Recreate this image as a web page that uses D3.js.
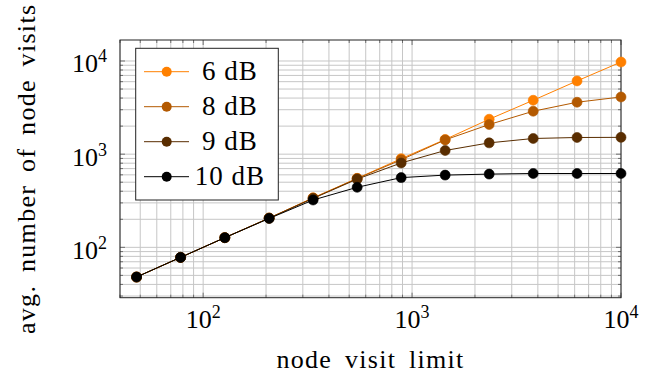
<!DOCTYPE html>
<html>
<head>
    <meta charset="UTF-8">
    <style>
        body { margin: 0; background: #fff; }
    </style>
</head>
<body>
    <div id="chart"></div>

    <script src="https://d3js.org/d3.v7.min.js"></script>
    <script>
        // data
        const limits = [48, 78, 127, 207, 336, 546, 887, 1440, 2339, 3800, 6160, 10000];
        const visits6 = [48, 78, 127, 206, 340, 550, 895, 1438, 2370, 3790, 6110, 9750];
        const visits8 = [48, 78, 127, 206, 338, 548, 870, 1423, 2080, 2890, 3610, 4110];
        const visits9 = [48, 78, 127, 206, 335, 540, 805, 1095, 1322, 1473, 1510, 1515];
        const visits10 = [48, 78, 127, 204, 322, 441, 560, 596, 611, 620, 620, 620];
        const seriesNames = ["6 dB", "8 dB", "9 dB", "10 dB"];
        const seriesColors = ["#ff8000", "#b35900", "#592d00", "#000000"];
        const xLabel = "node visit limit";
        const yLabel = "avg. number of node visits";

        const width = 651, height = 374;
        const margin = { top: 40, right: 30, bottom: 76.3, left: 120 };
        const serif = "'Liberation Serif', 'Times New Roman', FreeSerif, serif";

        const svg = d3.select("#chart").append("svg")
            .attr("width", width).attr("height", height)
            .style("font-family", serif);

        const x = d3.scaleLog().domain([40, 10000]).range([margin.left, width - margin.right]);
        const y = d3.scaleLog().domain([28.8, 16800]).range([height - margin.bottom, margin.top]);

        const pl = margin.left, pr = width - margin.right;
        const pt = margin.top, pb = height - margin.bottom;

        const xTicks = x.ticks();
        const yTicks = y.ticks();
        const isMajor = v => Math.abs(Math.log10(v) - Math.round(Math.log10(v))) < 1e-9;

        // grid (both major and minor)
        const grid = svg.append("g").attr("stroke", "#c6c6c6").attr("stroke-width", 1);
        grid.selectAll(".gx").data(xTicks).enter().append("line")
            .attr("x1", d => x(d)).attr("x2", d => x(d))
            .attr("y1", pt).attr("y2", pb);
        grid.selectAll(".gy").data(yTicks).enter().append("line")
            .attr("y1", d => y(d)).attr("y2", d => y(d))
            .attr("x1", pl).attr("x2", pr);

        // inward ticks on all four sides
        const ticks = svg.append("g").attr("stroke", "#555").attr("stroke-width", 0.8);
        xTicks.forEach(v => {
            const len = isMajor(v) ? 5 : 3;
            ticks.append("line").attr("x1", x(v)).attr("x2", x(v)).attr("y1", pb).attr("y2", pb - len);
            ticks.append("line").attr("x1", x(v)).attr("x2", x(v)).attr("y1", pt).attr("y2", pt + len);
        });
        yTicks.forEach(v => {
            const len = isMajor(v) ? 5 : 3;
            ticks.append("line").attr("y1", y(v)).attr("y2", y(v)).attr("x1", pl).attr("x2", pl + len);
            ticks.append("line").attr("y1", y(v)).attr("y2", y(v)).attr("x1", pr).attr("x2", pr - len);
        });

        // frame
        svg.append("rect")
            .attr("x", pl).attr("y", pt)
            .attr("width", pr - pl).attr("height", pb - pt)
            .attr("fill", "none").attr("stroke", "#222").attr("stroke-width", 1);

        // tick labels 10^n
        function powLabel(sel, v) {
            sel.style("font-family", serif).style("font-size", "26px");
            sel.append("tspan").text("10");
            sel.append("tspan").attr("dy", -10).style("font-size", "18px").text(Math.round(Math.log10(v)));
        }
        xTicks.filter(isMajor).forEach(v => {
            svg.append("text").attr("x", x(v)).attr("y", pb + 30.6)
                .attr("text-anchor", "middle")
                .call(powLabel, v);
        });
        yTicks.filter(isMajor).forEach(v => {
            svg.append("text").attr("x", pl - 13).attr("y", y(v) + 11.5)
                .attr("text-anchor", "end")
                .call(powLabel, v);
        });

        // axis titles
        svg.append("text")
            .attr("x", (pl + pr) / 2).attr("y", 368)
            .attr("text-anchor", "middle")
            .style("font-family", serif).style("font-size", "26px")
            .style("word-spacing", "5px").style("letter-spacing", "1.3px")
            .text(xLabel);
        svg.append("text")
            .attr("transform", `translate(35,${(pt + pb) / 2}) rotate(-90)`)
            .attr("text-anchor", "middle")
            .style("font-family", serif).style("font-size", "26px")
            .style("word-spacing", "5px").style("letter-spacing", "1.3px")
            .text(yLabel);

        // series
        const series = [visits6, visits8, visits9, visits10].map((vals, i) => ({
            name: seriesNames[i],
            color: seriesColors[i],
            points: limits.map((l, j) => ({ x: l, y: vals[j] }))
        }));

        const line = d3.line().x(d => x(d.x)).y(d => y(d.y));

        series.forEach(s => {
            const g = svg.append("g");
            g.append("path").datum(s.points)
                .attr("d", line)
                .attr("fill", "none").attr("stroke", s.color).attr("stroke-width", 1);
            g.selectAll("circle").data(s.points).enter().append("circle")
                .attr("cx", d => x(d.x)).attr("cy", d => y(d.y)).attr("r", 5)
                .attr("fill", s.color).attr("stroke", s.color).attr("stroke-width", 0.6);
        });

        // legend
        const legend = svg.append("g").attr("transform", `translate(${pl + 15.7},${pt + 8.3})`);
        legend.append("rect")
            .attr("width", 142.6).attr("height", 151.7)
            .attr("fill", "#fff").attr("stroke", "#222").attr("stroke-width", 1);
        series.forEach((s, i) => {
            const cy = 23.4 + i * 35;
            legend.append("line")
                .attr("x1", 8.3).attr("x2", 53.3).attr("y1", cy).attr("y2", cy)
                .attr("stroke", s.color).attr("stroke-width", 1);
            legend.append("circle")
                .attr("cx", 31).attr("cy", cy).attr("r", 5)
                .attr("fill", s.color);
            legend.append("text")
                .attr("x", 94.3).attr("y", cy + 8.5)
                .attr("text-anchor", "middle")
                .style("font-family", serif).style("font-size", "27px")
                .style("letter-spacing", "1px")
                .text(s.name);
        });
    </script>
</body>
</html>
